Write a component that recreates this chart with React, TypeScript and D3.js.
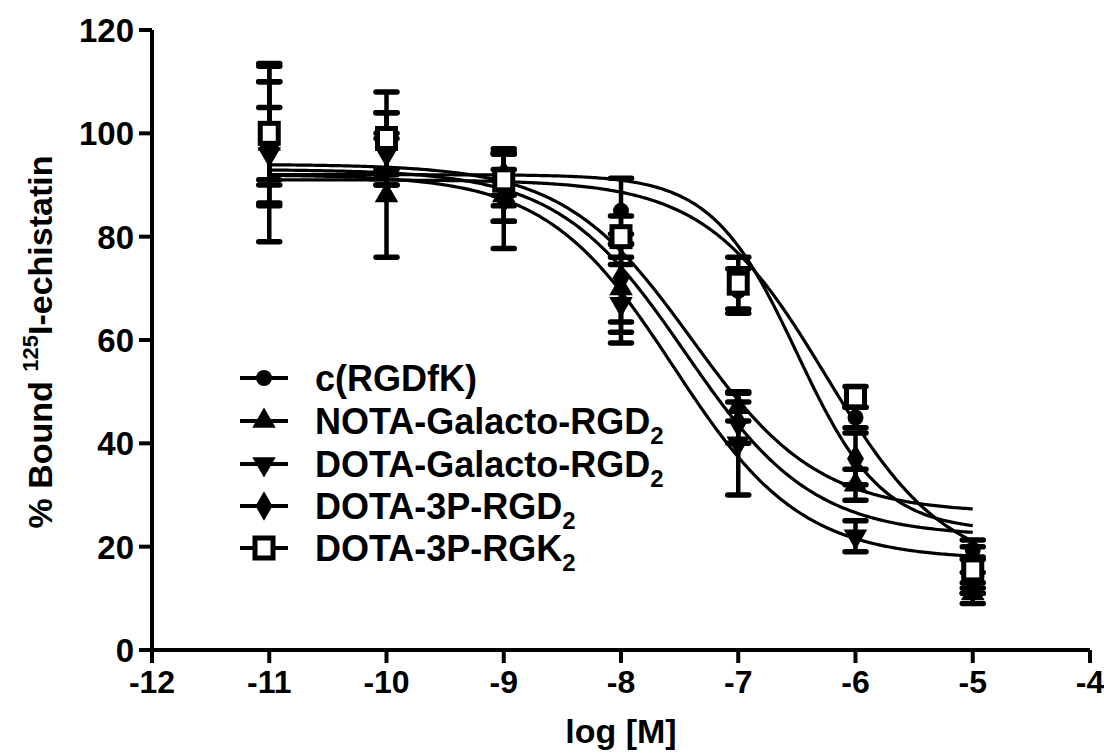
import React from 'react';
import * as d3 from 'd3';

const logConc = [-11, -10, -9, -8, -7, -6, -5];
const seriesNames = ['c(RGDfK)', 'NOTA-Galacto-RGD', 'DOTA-Galacto-RGD', 'DOTA-3P-RGD', 'DOTA-3P-RGK'];
const seriesSub = ['', '2', '2', '2', '2'];
const seriesShapes = ['circle', 'triangleUp', 'triangleDown', 'diamond', 'square'];

// mean % bound and SEM, one entry per concentration
const rgdfkMean = [100, 97, 90, 85, 69.5, 45, 19.4];
const rgdfkSem = [13.5, 7, 7, 6.3, 4.3, 2, 1.9];
const notaMean = [98, 88, 88, 70, 47, 32, 11];
const notaSem = [7, 12, 5, 8.5, 2.7, 3, 2];
const dotaGalMean = [96, 96, 87, 67, 40, 22, 13];
const dotaGalSem = [17, 3, 9.3, 7.6, 10, 3, 2];
const rgd2Mean = [98, 98, 92, 72, 44, 37, 15];
const rgd2Sem = [12, 6, 4, 8.5, 4, 5, 3];
const rgk2Mean = [100, 99, 91, 80, 71, 49, 15.5];
const rgk2Sem = [10, 9, 5, 4, 5, 2, 4.5];

// sigmoidal fit parameters (top, bottom, logIC50, hill)
const fitTop = [91, 94, 92, 93, 92];
const fitBottom = [15, 26.5, 17.5, 22, 23];
const fitLogIC50 = [-6.25, -7.4, -7.55, -7.45, -6.5];
const fitHill = [0.85, 0.8, 0.8, 0.8, 1.2];

const xTicks = [-12, -11, -10, -9, -8, -7, -6, -5, -4];
const yTicks = [0, 20, 40, 60, 80, 100, 120];

const means = [rgdfkMean, notaMean, dotaGalMean, rgd2Mean, rgk2Mean];
const sems = [rgdfkSem, notaSem, dotaGalSem, rgd2Sem, rgk2Sem];

const FONT = '"Liberation Sans", Arial, sans-serif';

const x = d3.scaleLinear().domain([-12, -4]).range([152, 1090]);
const y = d3.scaleLinear().domain([0, 120]).range([650, 30]);

const Marker = ({ shape, cx, cy }) => {
  if (shape === 'square') {
    return <rect x={cx - 9} y={cy - 10} width={18} height={20} fill="#fff" stroke="#000" strokeWidth={5} />;
  }
  const types = {
    circle: [d3.symbolCircle, 200, 0],
    triangleUp: [d3.symbolTriangle, 240, 0],
    triangleDown: [d3.symbolTriangle, 240, 180],
    diamond: [d3.symbolDiamond, 250, 0],
  };
  const [type, size, rot] = types[shape];
  const path = d3.symbol().type(type).size(size)();
  return <path d={path} transform={`translate(${cx},${cy}) rotate(${rot})`} fill="#000" />;
};

const App = () => {
  const grid = d3.range(-11, -4.999, 0.02);
  const curve = (i) =>
    d3
      .line()
      .x((d) => x(d))
      .y((d) => y(fitBottom[i] + (fitTop[i] - fitBottom[i]) / (1 + Math.pow(10, (d - fitLogIC50[i]) * fitHill[i]))))(grid);

  const legendY = [378, 421, 464, 506, 548];

  return (
    <svg width={1104} height={753} style={{ position: 'absolute', left: 0, top: 0, background: '#fff' }} fontFamily={FONT}>
      <rect width={1104} height={753} fill="#fff" />
      {/* fitted curves */}
      {seriesNames.map((n, i) => (
        <path key={n} d={curve(i)} fill="none" stroke="#000" strokeWidth={3.2} />
      ))}
      {/* error bars */}
      {means.map((m, i) =>
        m.map((v, j) => {
          const cx = x(logConc[j]);
          const top = y(v + sems[i][j]);
          const bot = y(v - sems[i][j]);
          return (
            <g key={`e${i}-${j}`} stroke="#000" strokeLinecap="round">
              <line x1={cx} x2={cx} y1={top} y2={bot} strokeWidth={4.5} />
              <line x1={cx - 10.5} x2={cx + 10.5} y1={top} y2={top} strokeWidth={5.5} />
              <line x1={cx - 10.5} x2={cx + 10.5} y1={bot} y2={bot} strokeWidth={5.5} />
            </g>
          );
        })
      )}
      {/* markers */}
      {means.map((m, i) =>
        m.map((v, j) => <Marker key={`m${i}-${j}`} shape={seriesShapes[i]} cx={x(logConc[j])} cy={y(v)} />)
      )}
      {/* axes */}
      <line x1={x(-12)} x2={x(-4)} y1={y(0)} y2={y(0)} stroke="#000" strokeWidth={4} />
      <line x1={x(-12)} x2={x(-12)} y1={y(120)} y2={y(0) + 13} stroke="#000" strokeWidth={4} />
      {xTicks.map((t) => (
        <g key={`xt${t}`}>
          <line x1={x(t)} x2={x(t)} y1={y(0)} y2={y(0) + 13} stroke="#000" strokeWidth={4} />
          <text x={x(t)} y={y(0) + 43} textAnchor="middle" fontSize={32} fontWeight="bold">
            {t}
          </text>
        </g>
      ))}
      {yTicks.map((t) => (
        <g key={`yt${t}`}>
          <line x1={x(-12) - 13} x2={x(-12)} y1={y(t)} y2={y(t)} stroke="#000" strokeWidth={4} />
          <text x={x(-12) - 18} y={y(t)} dy="0.36em" textAnchor="end" fontSize={33} fontWeight="bold">
            {t}
          </text>
        </g>
      ))}
      <text x={621} y={743} textAnchor="middle" fontSize={34} fontWeight="bold">
        log [M]
      </text>
      <text transform="translate(52,342) rotate(-90)" textAnchor="middle" fontSize={34} fontWeight="bold">
        % Bound <tspan fontSize={22} dy={-14}>125</tspan>
        <tspan dy={14}>I-echistatin</tspan>
      </text>
      {/* legend */}
      {seriesNames.map((n, i) => (
        <g key={`lg${n}`}>
          <line x1={240} x2={288} y1={legendY[i]} y2={legendY[i]} stroke="#000" strokeWidth={4} />
          <Marker shape={seriesShapes[i]} cx={264} cy={legendY[i]} />
          <text x={315} y={legendY[i]} dy="0.36em" fontSize={36} fontWeight="bold">
            {n}
            {seriesSub[i] && (
              <tspan fontSize={24} dy={10}>
                {seriesSub[i]}
              </tspan>
            )}
          </text>
        </g>
      ))}
    </svg>
  );
};

export default App;
